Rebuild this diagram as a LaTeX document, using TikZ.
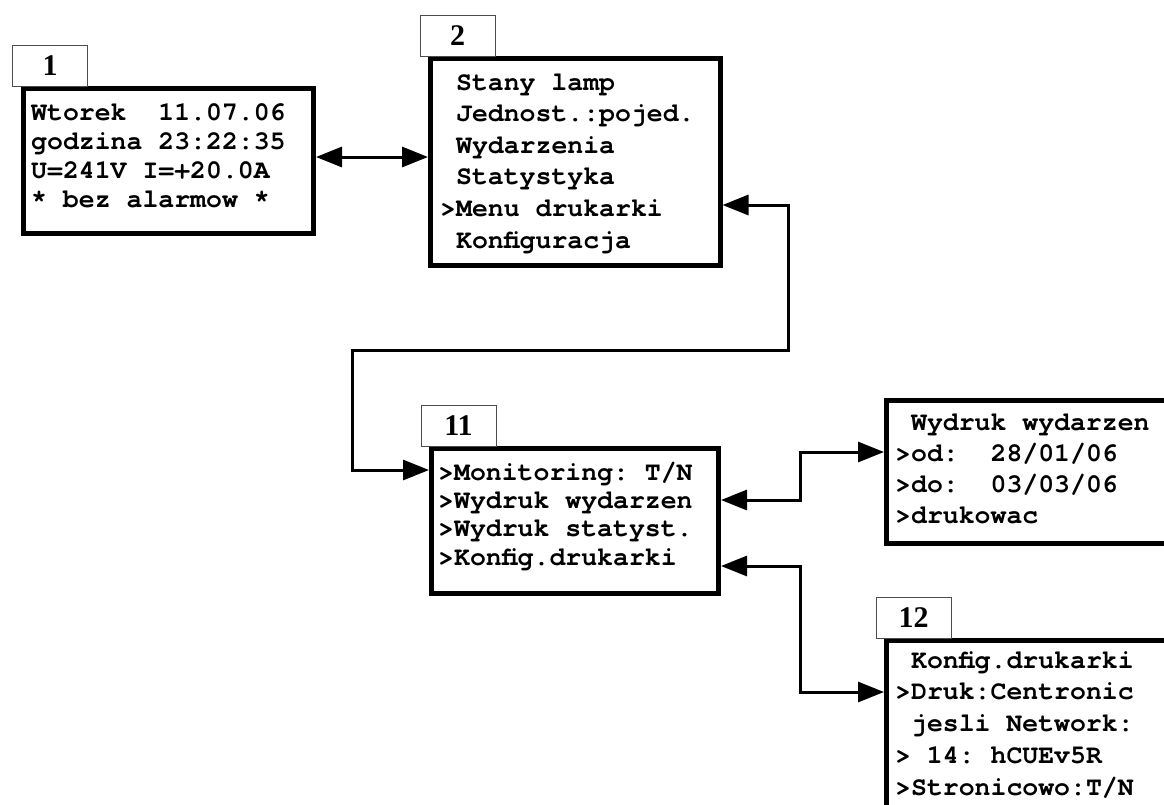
\documentclass[tikz,border=0pt]{standalone}
\usepackage{fontspec}
\usetikzlibrary{arrows.meta}
\newfontfamily\lcdfont{TeX Gyre Cursor}
\newfontfamily\tagfont{Liberation Serif}

\tikzset{
  frame/.style={draw, line width=5pt, rectangle, inner sep=0pt, outer sep=2.5pt, anchor=north west},
  row/.style={inner sep=0pt, anchor=base west, font=\lcdfont\bfseries\fontsize{26.5pt}{30pt}\selectfont},
  tag/.style={draw=black!70, line width=1pt, rectangle, inner sep=0pt, outer sep=0pt,
    minimum width=75pt, minimum height=41pt, anchor=south west,
    font=\tagfont\bfseries\fontsize{30pt}{32pt}\selectfont},
  link/.style={line width=3pt, line join=miter,
    {Triangle[length=26pt,width=20pt]}-{Triangle[length=26pt,width=20pt]}}
}

\begin{document}
\begin{tikzpicture}[x=1pt, y=-1pt]
  \useasboundingbox (0,0) rectangle (1164,804);
  \clip (0,0) rectangle (1164,804);

  % screen 1: start display
  \node[frame, minimum width=290.5pt, minimum height=145pt] (b1) at (20.5,86) {};
  \node[tag] (t1) at ([xshift=-8pt]b1.north west) {1};
  \foreach \t [count=\i] in {Wtorek~~11.07.06, godzina~23:22:35, U=241V~I=+20.0A, *~bez~alarmow~*}
    \node[row] (b1r\i) at (31,{120+29*(\i-1)}) {\t};

  % screen 2: main menu
  \node[frame, minimum width=289.5pt, minimum height=206.5pt] (b2) at (428,56) {};
  \node[tag] (t2) at ([xshift=-8pt]b2.north west) {2};
  \foreach \t [count=\i] in {~Stany~lamp, ~Jednost.:pojed., ~Wydarzenia, ~Statystyka, >Menu~drukarki, ~Konfiguracja}
    \node[row] (b2r\i) at (440,{90+31.6*(\i-1)}) {\t};

  % screen 11: printer menu
  \node[frame, minimum width=287pt, minimum height=145pt] (b11) at (429,446) {};
  \node[tag] (t11) at ([xshift=-8pt]b11.north west) {11};
  \foreach \t [count=\i] in {>Monitoring:~T/N, >Wydruk~wydarzen, >Wydruk~statyst., >Konfig.drukarki}
    \node[row] (b11r\i) at (438,{480+28.33*(\i-1)}) {\t};

  % event printout screen
  \node[frame, minimum width=400pt, minimum height=143pt] (bW) at (884,398) {};
  \foreach \t [count=\i] in {~Wydruk~wydarzen, >od:~~28/01/06, >do:~~03/03/06, >drukowac}
    \node[row] (bWr\i) at (895,{430+31*(\i-1)}) {\t};

  % screen 12: printer configuration
  \node[frame, minimum width=400pt, minimum height=300pt] (b12) at (884,638) {};
  \node[tag] (t12) at ([xshift=-8pt]b12.north west) {12};
  \foreach \t [count=\i] in {~Konfig.drukarki, >Druk:Centronic, ~jesli~Network:, >~14:~hCUEv5R, >Stronicowo:T/N}
    \node[row] (b12r\i) at (895,{668+31.75*(\i-1)}) {\t};

  % connector levels and bends
  \coordinate (k1) at (0,157);
  \coordinate (k2a) at (788,205);
  \coordinate (k2b) at (352,350);
  \coordinate (k2c) at (0,470);
  \coordinate (k3a) at (800,500);
  \coordinate (k3b) at (0,452);
  \coordinate (k4a) at (800,566);
  \coordinate (k4b) at (0,692);

  \draw[link] (b1.east |- k1) -- (b2.west |- k1);
  \draw[link] (b2.east |- k2a) -- (k2a) |- (k2b) |- (b11.west |- k2c);
  \draw[link] (b11.east |- k3a) -- (k3a) |- (bW.west |- k3b);
  \draw[link] (b11.east |- k4a) -- (k4a) |- (b12.west |- k4b);
\end{tikzpicture}
\end{document}
